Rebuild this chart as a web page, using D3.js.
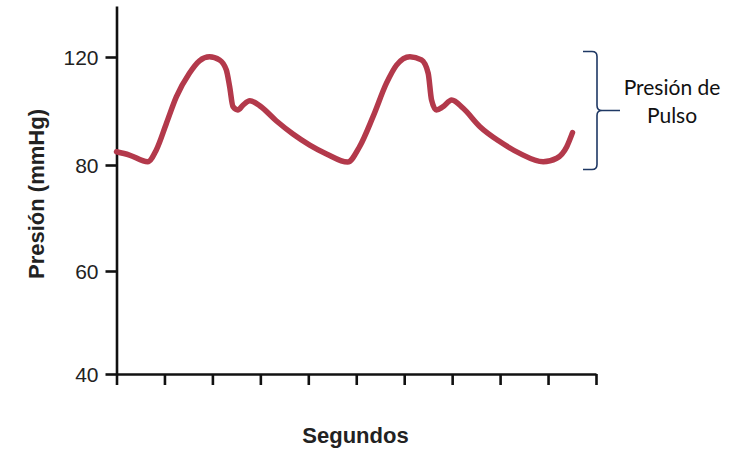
<!DOCTYPE html>
<html>
<head>
<meta charset="utf-8">
<script src="https://cdn.jsdelivr.net/npm/d3@7"></script>
<style>
  body { margin: 0; background: #fff; }
  svg { display: block; }
  .axis path, .axis line { stroke: #111; stroke-width: 2.6; }
  .axis text { font-family: "Liberation Sans", Arial, sans-serif; font-size: 21px; fill: #222; }
</style>
</head>
<body>
<div id="chart"></div>
<script>
// seconds and pressure (mmHg)
const seconds = [0.000, 0.027, 0.065, 0.083, 0.104, 0.125, 0.152, 0.173, 0.194, 0.215,
                 0.229, 0.236, 0.243, 0.253, 0.264, 0.278, 0.299, 0.333, 0.368, 0.403,
                 0.438, 0.482, 0.507, 0.535, 0.563, 0.584, 0.612, 0.636, 0.650, 0.657,
                 0.667, 0.681, 0.699, 0.723, 0.758, 0.800, 0.841, 0.890, 0.918, 0.939, 0.951];
const pressure = [84.9, 83.7, 81.2, 85.6, 95.4, 105.3, 114.0, 118.6, 120.1, 118.9,
                  115.2, 109.0, 101.6, 100.4, 102.2, 103.8, 101.9, 96.4, 91.5, 87.4,
                  84.1, 81.1, 86.8, 97.9, 110.3, 117.0, 120.1, 118.9, 114.0, 104.1,
                  100.4, 101.6, 104.1, 101.0, 94.2, 88.6, 84.3, 81.2, 82.5, 86.8, 92.0];
const yTickValues = [40, 60, 80, 120];
const xTickCount = 10;
const pulseRange = [80, 120];
const pulseLabel = ["Presión de", "Pulso"];
const yTitle = "Presión (mmHg)";
const xTitle = "Segundos";

const width = 729, height = 452;
const svg = d3.select("#chart").append("svg")
    .attr("width", width)
    .attr("height", height);

const x = d3.scaleLinear().domain([0, 1]).range([116.5, 596]);
// the printed axis spaces its labels evenly, so the scale is piecewise
const y = d3.scaleLinear().domain([40, 60, 80, 120, 139]).range([374, 271, 165, 57, 6]);

// y axis
svg.append("g")
    .attr("class", "axis")
    .attr("transform", `translate(${x(0)},0)`)
    .call(d3.axisLeft(y).tickValues(yTickValues).tickSize(11).tickSizeOuter(0).tickPadding(7))
    .call(g => g.selectAll("text").attr("dy", "0.36em"));

// x axis, ticks without labels
svg.append("g")
    .attr("class", "axis")
    .attr("transform", `translate(0,${y(40)})`)
    .call(d3.axisBottom(x).ticks(xTickCount).tickSize(11).tickSizeOuter(0).tickFormat(""));

svg.append("text")
    .attr("transform", `translate(44,${194}) rotate(-90)`)
    .attr("text-anchor", "middle")
    .style("font-family", "'Liberation Sans', Arial, sans-serif")
    .style("font-weight", "bold")
    .style("font-size", "22px")
    .style("fill", "#222")
    .text(yTitle);

svg.append("text")
    .attr("x", 355.5)
    .attr("y", 443)
    .attr("text-anchor", "middle")
    .style("font-family", "'Liberation Sans', Arial, sans-serif")
    .style("font-weight", "bold")
    .style("font-size", "22px")
    .style("fill", "#222")
    .text(xTitle);

// waveform
const points = seconds.map((s, i) => [s, pressure[i]]);
const line = d3.line()
    .x(d => x(d[0]))
    .y(d => y(d[1]))
    .curve(d3.curveMonotoneX);

svg.append("path")
    .datum(points)
    .attr("d", line)
    .attr("fill", "none")
    .attr("stroke", "#b3394b")
    .attr("stroke-width", 5.5)
    .attr("stroke-linecap", "round")
    .attr("stroke-linejoin", "round");

// curly bracket for pulse pressure
const bx = 597;
const bTop = y(pulseRange[1]) - 5.5, bBot = y(pulseRange[0]) + 4.5, bMid = (bTop + bBot) / 2;
const r = 5;
const bracket = d3.path();
bracket.moveTo(bx - 14, bTop);
bracket.lineTo(bx - r, bTop);
bracket.quadraticCurveTo(bx, bTop, bx, bTop + r);
bracket.lineTo(bx, bMid - r);
bracket.quadraticCurveTo(bx, bMid, bx + r, bMid);
bracket.lineTo(bx + 23, bMid);
bracket.moveTo(bx + r, bMid);
bracket.quadraticCurveTo(bx, bMid, bx, bMid + r);
bracket.lineTo(bx, bBot - r);
bracket.quadraticCurveTo(bx, bBot, bx - r, bBot);
bracket.lineTo(bx - 14, bBot);

svg.append("path")
    .attr("d", bracket.toString())
    .attr("fill", "none")
    .attr("stroke", "#1f3864")
    .attr("stroke-width", 1.6);

svg.selectAll(".pulse-label")
    .data(pulseLabel)
    .join("text")
    .attr("class", "pulse-label")
    .attr("x", 672)
    .attr("y", (d, i) => 95 + i * 28)
    .attr("text-anchor", "middle")
    .style("font-family", "Lato, 'Liberation Sans', sans-serif")
    .style("font-size", "21px")
    .style("fill", "#111")
    .text(d => d);
</script>
</body>
</html>
